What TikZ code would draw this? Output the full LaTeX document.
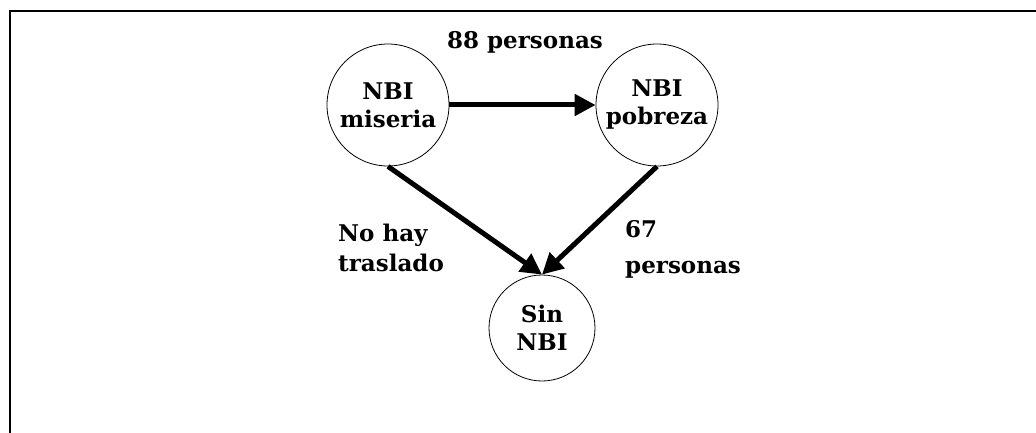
\documentclass[tikz,border=0pt]{standalone}
\usepackage{fontspec}
\setmainfont{DejaVu Serif}
\usetikzlibrary{arrows.meta}
\begin{document}
\begin{tikzpicture}[x=1pt,y=-1pt,
  state/.style={circle,draw,line width=0.8pt,minimum size=122pt,inner sep=0pt,align=center,font=\fontsize{23}{28}\selectfont\bfseries},
  flow/.style={line width=5pt,-{Triangle[length=21pt,width=21pt]}},
  lbl/.style={font=\fontsize{23}{30}\selectfont\bfseries,align=left,inner sep=0pt}]
\useasboundingbox (0,0) rectangle (1036,433);
\draw[line width=2pt] (10,433) -- (10,11) -- (1036,11);
\node[state] (m) at (388,105) {NBI\\miseria};
\node[state] (p) at (657,105) {NBI\\pobreza};
\node[state,minimum size=106pt] (s) at (542,328) {Sin\\NBI};
\draw[flow] (m.east) -- (p.west);
\draw[flow] (m.south) -- (s.north);
\draw[flow] (p.south) -- (s.north);
\node[lbl] (l1) at (525,42) {88 personas};
\node[lbl,anchor=north west] (l2) at (338,224) {No hay\\traslado};
\node[lbl,anchor=north west,font=\fontsize{23}{36}\selectfont\bfseries] (l3) at (625,220) {67\\personas};
\end{tikzpicture}
\end{document}
